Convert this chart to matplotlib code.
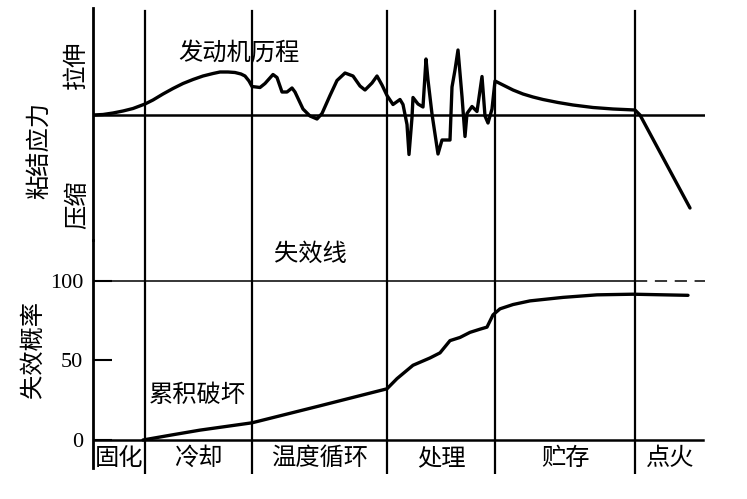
import matplotlib
matplotlib.use("Agg")
import matplotlib.pyplot as plt
import matplotlib.transforms as mtransforms

plt.rcParams['font.family'] = ['Noto Sans CJK SC', 'DejaVu Sans']

# ---------------- data ----------------
stage_names = ["固化", "冷却", "温度循环", "处理", "贮存", "点火"]
stage_bounds = [0, 52, 159, 294, 402, 542, 612]

stress_t = [0, 10, 20, 30, 40, 52, 60, 70, 80, 90,
            100, 110, 120, 127, 135, 142, 148, 152, 156,
            159, 167, 172, 180, 184, 189, 194, 199, 202, 210,
            217, 224, 229, 237, 244, 252, 260, 267, 272, 279,
            284, 289, 294, 300, 307, 310, 314, 316, 319, 320,
            325, 330, 333, 335, 339, 345, 349, 357, 359, 362,
            365, 369, 372, 374, 379, 384, 389, 392, 395, 399,
            402, 410, 420, 430, 440, 450, 465, 480, 500, 520,
            542, 547, 597]
stress_v = [0, 0.05, 0.2, 0.4, 0.65, 1.1, 1.5, 2.1, 2.65, 3.15,
            3.55, 3.9, 4.15, 4.3, 4.3, 4.25, 4.1, 3.9, 3.4,
            2.85, 2.75, 3.15, 4.05, 3.75, 2.3, 2.3, 2.7, 2.3, 0.6,
            -0.1, -0.4, 0.15, 1.95, 3.45, 4.2, 3.9, 2.9, 2.5, 3.2,
            3.9, 3.0, 1.95, 1.05, 1.55, 1.05, -0.95, -3.95, -0.25, 1.75,
            1.1, 0.8, 5.6, 3.5, 0.1, -3.9, -2.5, -2.5, 2.8, 4.5,
            6.5, 1.85, -2.15, 0.15, 0.85, 0.35, 3.85, -0.1, -0.8, 0.6,
            3.4, 3.0, 2.5, 2.1, 1.8, 1.55, 1.25, 1.0, 0.75, 0.6,
            0.5, 0.0, -9.3]

prob_t = [50, 80, 107, 159, 227, 294, 304, 320, 337, 347, 357, 367,
          377, 387, 394, 400, 407, 420, 437, 470, 504, 540, 595]
prob_v = [0, 3.3, 6.2, 10.8, 21.5, 32.2, 38.6, 47, 51.6, 54.8, 62.5, 64.5,
          67.7, 69.7, 71, 78.7, 82.5, 85.2, 87.5, 89.7, 91.3, 91.7, 91]

prob_ticks = [0, 50, 100]
failure_level = 100

# ---------------- figure ----------------
W, H = 747, 499
fig = plt.figure(figsize=(W / 100, H / 100), dpi=100)
fig.patch.set_facecolor("white")


def P(x, y):
    return x / W, 1 - y / H


ax_top = fig.add_axes([93 / W, 1 - 240 / H, 612 / W, (240 - 8) / H])
ax_bot = fig.add_axes([93 / W, 1 - 474 / H, 612 / W, (474 - 240) / H])

for ax in (ax_top, ax_bot):
    ax.set_xlim(stage_bounds[0], stage_bounds[-1])
    for s in ("top", "right", "bottom"):
        ax.spines[s].set_visible(False)
    ax.spines["left"].set_linewidth(2.0)
    ax.spines["left"].set_color("black")
    ax.set_xticks([])
    ax.patch.set_alpha(0)

ax_top.set_ylim(-12.5, 10.7)
ax_top.set_yticks([])
ax_bot.set_ylim(-21.4, 125.8)
ax_bot.spines["left"].set_bounds(-17.6, 125.8)

# stage boundary lines
for b in stage_bounds[1:-1]:
    ax_top.axvline(b, ymin=0, ymax=0.985, color="black", lw=1.6)
    ax_bot.axvline(b, ymin=0, ymax=1, color="black", lw=1.6)

# stress zero line and curve
ax_top.axhline(0, color="black", lw=1.8)
ax_top.plot(stress_t, stress_v, color="black", lw=2.4,
            solid_joinstyle="round", solid_capstyle="round")

# probability axis
ax_bot.axhline(0, xmin=0, xmax=610 / 612, color="black", lw=1.8)
ax_bot.plot([0, 542], [failure_level, failure_level], color="black", lw=1.1)
ax_bot.plot([542, 612], [failure_level, failure_level], color="black", lw=1.1,
            dashes=(8, 5))
ax_bot.plot(prob_t, prob_v, color="black", lw=2.4,
            solid_joinstyle="round", solid_capstyle="round")

ax_bot.set_yticks(prob_ticks)
ax_bot.set_yticklabels([str(v) for v in prob_ticks])
ax_bot.tick_params(axis="y", direction="in", length=13.5, width=1.5, pad=7,
                   labelsize=16)
for lab in ax_bot.get_yticklabels():
    lab.set_fontfamily("Liberation Serif")

# stage labels
trans = mtransforms.blended_transform_factory(ax_bot.transData, fig.transFigure)
for i, name in enumerate(stage_names):
    c = (stage_bounds[i] + stage_bounds[i + 1]) / 2
    ax_bot.text(c, 1 - 458 / H, name, transform=trans, ha="center",
                va="center", fontsize=17.5)

# annotations
fs = 17.5
fig.text(*P(239, 53), "发动机历程", ha="center", va="center", fontsize=fs)
fig.text(*P(76, 65), "拉伸", ha="center", va="center", fontsize=fs, rotation=90)
fig.text(*P(39, 150), "粘结应力", ha="center", va="center", fontsize=fs, rotation=90)
fig.text(*P(77, 205), "压缩", ha="center", va="center", fontsize=fs, rotation=90)
fig.text(*P(310, 254), "失效线", ha="center", va="center", fontsize=fs)
fig.text(*P(33, 349), "失效概率", ha="center", va="center", fontsize=fs, rotation=90)
fig.text(*P(197, 395), "累积破坏", ha="center", va="center", fontsize=fs)

fig.savefig("out.png", dpi=100, facecolor="white")
